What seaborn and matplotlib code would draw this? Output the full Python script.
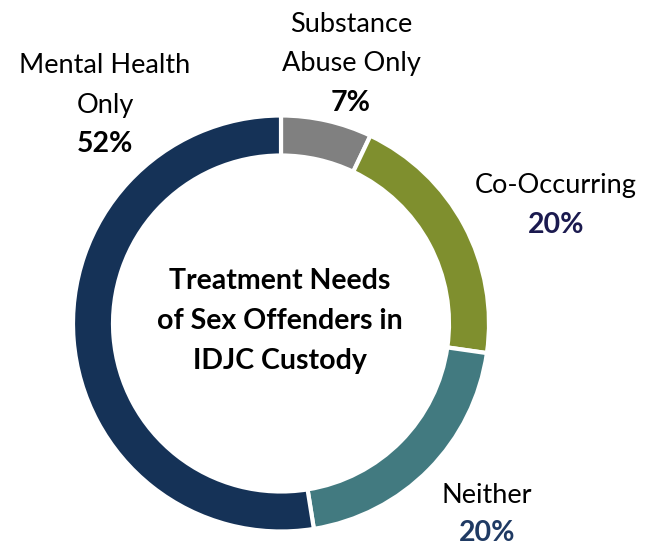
import matplotlib
matplotlib.use("Agg")
import matplotlib.pyplot as plt
import seaborn as sns

# Treatment needs of sex offenders in IDJC custody (percent of youth)
categories = ["Substance Abuse Only", "Co-Occurring", "Neither", "Mental Health Only"]
values = [7, 20, 20, 52]
label_lines = [["Substance", "Abuse Only"], ["Co-Occurring"], ["Neither"], ["Mental Health", "Only"]]
slice_colors = ["#808080", "#7f8f2e", "#427a80", "#153257"]
pct_colors = ["#000000", "#1b1a4f", "#1f3a63", "#000000"]
title_lines = ["Treatment Needs", "of Sex Offenders in", "IDJC Custody"]

sns.set_theme(style="white")
plt.rcParams["font.family"] = ["Lato", "DejaVu Sans"]

W, H = 657, 548
fig = plt.figure(figsize=(W / 100, H / 100), dpi=100)
fig.patch.set_facecolor("white")

# donut geometry in pixels
cx, cy, r, ring = 281, 323.5, 208, 40
ax = fig.add_axes([(cx - r) / W, (H - cy - r) / H, 2 * r / W, 2 * r / H])
ax.pie(values, colors=slice_colors, startangle=90, counterclock=False,
       radius=1.0, wedgeprops=dict(width=ring / r, edgecolor="white", linewidth=3))
ax.set_xlim(-1, 1)
ax.set_ylim(-1, 1)
ax.set_aspect("auto")
ax.axis("off")


def put(x, y, s, **kw):
    fig.text(x / W, 1 - y / H, s, ha="center", va="baseline", **kw)


# category labels with their percentages: (centre x, first baseline y, line step)
label_pos = [(351, 32, 39.5), (556, 193, 40), (487, 503, 38), (105, 73, 39.5)]
for (x, y, step), lines, v, pc in zip(label_pos, label_lines, values, pct_colors):
    for i, ln in enumerate(lines):
        put(x, y + i * step, ln, fontsize=19.5, color="black")
    put(x, y + len(lines) * step, f"{v}%", fontsize=20.5, fontweight="bold", color=pc)

# centre title
for i, ln in enumerate(title_lines):
    put(280, 289 + i * 40, ln, fontsize=20.5, fontweight="bold", color="black")

fig.savefig("out.png", dpi=100, facecolor="white")
